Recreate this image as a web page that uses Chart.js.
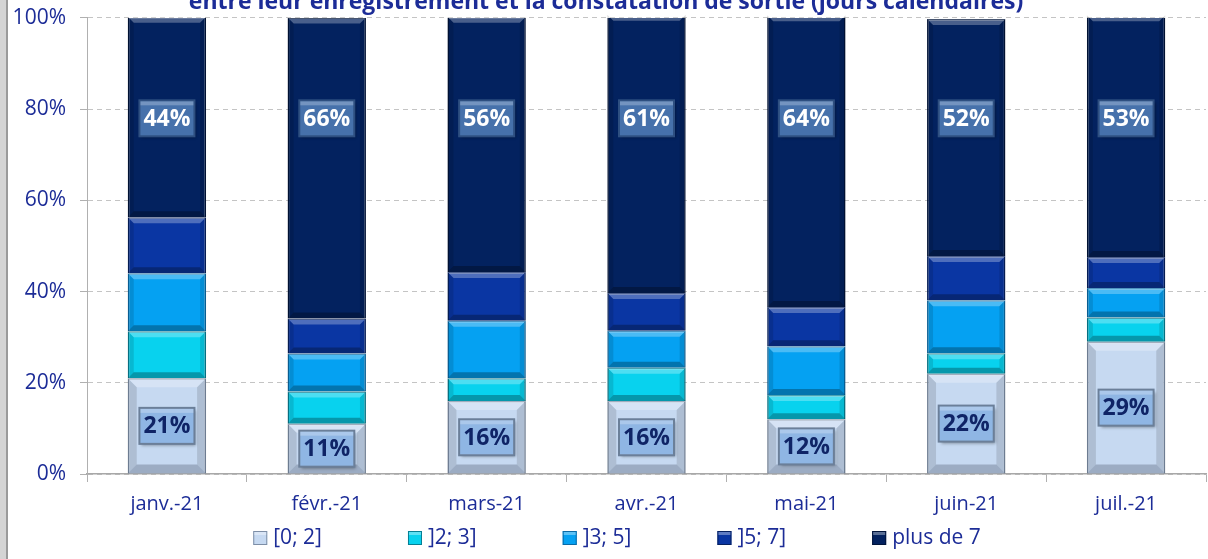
<!DOCTYPE html>
<html>
<head>
<meta charset="utf-8">
<script src="https://cdn.jsdelivr.net/npm/chart.js@4"></script>
<style>
  html, body { margin: 0; padding: 0; background: #fff; overflow: hidden; }
  #wrap { position: relative; width: 1208px; height: 559px; overflow: hidden; box-sizing: border-box; border-left: 6px solid #d4d4d4; }
  #wrap:before { content: ''; position: absolute; left: 0; top: 0; bottom: 0; width: 2px; background: #9a9a9a; z-index: 1; }
  #chart { display: block; margin-top: -11px; }
</style>
</head>
<body>
<div id="wrap"><canvas id="chart" width="1202" height="570"></canvas></div>
<script>
// Months and share of each delay band (% of files)
const months = ['janv.-21', 'févr.-21', 'mars-21', 'avr.-21', 'mai-21', 'juin-21', 'juil.-21'];
const band0to2 = [21, 11, 16, 16, 12, 22, 29];
const band2to3 = [10.3, 7.1, 5, 7.3, 5.3, 4.5, 5.3];
const band3to5 = [12.7, 8.3, 12.6, 8.1, 10.7, 11.6, 6.5];
const band5to7 = [12.3, 7.7, 10.7, 8.3, 8.6, 9.7, 6.8];
const bandOver7 = [44, 66, 56, 61, 64, 52, 53];
const yTicks = [0, 20, 40, 60, 80, 100];

const navy = '#1c2c97';
const font = "'Open Sans', sans-serif";

// bevel look on each bar segment
const bevelPlugin = {
    id: 'bevel',
    afterDatasetsDraw(chart) {
        const ctx = chart.ctx;
        chart.data.datasets.forEach((ds, i) => {
            const meta = chart.getDatasetMeta(i);
            const b = i === 0 ? 9 : 6;
            meta.data.forEach(bar => {
                const l = bar.x - bar.width / 2, r = bar.x + bar.width / 2;
                const t = Math.min(bar.y, bar.base), btm = Math.max(bar.y, bar.base);
                if (btm - t < 2 * b) return;
                ctx.save();
                ctx.fillStyle = 'rgba(255,255,255,0.28)';
                ctx.beginPath();
                ctx.moveTo(l, t); ctx.lineTo(r, t); ctx.lineTo(r - b, t + b); ctx.lineTo(l + b, t + b);
                ctx.fill();
                ctx.fillStyle = i === 0 ? 'rgba(60,70,90,0.3)' : 'rgba(0,0,0,0.28)';
                ctx.beginPath();
                ctx.moveTo(l, btm); ctx.lineTo(r, btm); ctx.lineTo(r - b, btm - b); ctx.lineTo(l + b, btm - b);
                ctx.fill();
                ctx.fillStyle = 'rgba(0,0,0,0.12)';
                ctx.beginPath();
                ctx.moveTo(l, t); ctx.lineTo(l + b, t + b); ctx.lineTo(l + b, btm - b); ctx.lineTo(l, btm);
                ctx.moveTo(r, t); ctx.lineTo(r - b, t + b); ctx.lineTo(r - b, btm - b); ctx.lineTo(r, btm);
                ctx.fill();
                ctx.restore();
            });
        });
    }
};

// boxed value labels on the first and last band
const labelPlugin = {
    id: 'boxLabels',
    afterDatasetsDraw(chart) {
        const ctx = chart.ctx;
        const y = chart.scales.y;
        [0, 4].forEach(i => {
            const meta = chart.getDatasetMeta(i);
            const vals = chart.data.datasets[i].data;
            meta.data.forEach((bar, j) => {
                const text = Math.round(vals[j]) + '%';
                const cy = i === 0 ? (bar.y + bar.base) / 2 : y.getPixelForValue(78);
                ctx.save();
                ctx.font = 'bold 23px ' + font;
                const w = ctx.measureText(text).width + 8, h = 36;
                const bx = bar.x - w / 2, by = cy - h / 2;
                ctx.shadowColor = 'rgba(0,0,0,0.35)';
                ctx.shadowOffsetX = 2; ctx.shadowOffsetY = 2; ctx.shadowBlur = 3;
                ctx.fillStyle = i === 0 ? '#8fb6e4' : '#4671ab';
                ctx.fillRect(bx, by, w, h);
                ctx.shadowColor = 'transparent';
                ctx.strokeStyle = i === 0 ? '#6b7f99' : '#2e4f80';
                ctx.lineWidth = 2;
                ctx.strokeRect(bx, by, w, h);
                ctx.fillStyle = 'rgba(255,255,255,0.25)';
                ctx.fillRect(bx + 1, by + 1, w - 2, 4);
                ctx.fillStyle = i === 0 ? '#0f2466' : '#ffffff';
                ctx.textAlign = 'center';
                ctx.textBaseline = 'middle';
                ctx.fillText(text, bar.x, cy + 1);
                ctx.restore();
            });
        });
    }
};

// legend with wide spacing, drawn under the axis labels
const legendPlugin = {
    id: 'wideLegend',
    afterDraw(chart) {
        const ctx = chart.ctx;
        const items = chart.data.datasets;
        const gap = 86, box = 14, sp = 6;
        ctx.save();
        ctx.font = '21px ' + font;
        const widths = items.map(d => box + sp + ctx.measureText(d.label).width);
        const total = widths.reduce((a, b) => a + b, 0) + gap * (items.length - 1);
        let x = chart.width / 2 + 10 - total / 2;
        const cy = chart.height - 21;
        items.forEach((d, i) => {
            ctx.fillStyle = d.backgroundColor;
            ctx.fillRect(x, cy - box / 2, box, box);
            ctx.strokeStyle = d.borderColor;
            ctx.lineWidth = 1;
            ctx.strokeRect(x + 0.5, cy - box / 2 + 0.5, box - 1, box - 1);
            ctx.fillStyle = 'rgba(255,255,255,0.35)';
            ctx.fillRect(x + 1, cy - box / 2 + 1, box - 2, 3);
            ctx.fillStyle = navy;
            ctx.textAlign = 'left';
            ctx.textBaseline = 'middle';
            ctx.fillText(d.label, x + box + sp, cy);
            x += widths[i] + gap;
        });
        ctx.restore();
    }
};

const ctx = document.getElementById('chart').getContext('2d');
new Chart(ctx, {
    type: 'bar',
    data: {
        labels: months,
        datasets: [
            { label: '[0; 2]', data: band0to2, backgroundColor: '#c6d9f1', borderColor: '#7d8ea6' },
            { label: ']2; 3]', data: band2to3, backgroundColor: '#08d2ee', borderColor: '#067f93' },
            { label: ']3; 5]', data: band3to5, backgroundColor: '#05a1f2', borderColor: '#0a6aa6' },
            { label: ']5; 7]', data: band5to7, backgroundColor: '#0a36a3', borderColor: '#06205f' },
            { label: 'plus de 7', data: bandOver7, backgroundColor: '#03225f', borderColor: '#01143a' }
        ]
    },
    options: {
        responsive: false,
        animation: false,
        datasets: { bar: { borderWidth: 1.5, barPercentage: 0.49, categoryPercentage: 1 } },
        layout: { padding: { left: 0, right: 2, top: 0, bottom: 33 } },
        scales: {
            x: {
                stacked: true,
                grid: { display: true, drawOnChartArea: false, offset: true, tickLength: 8, color: '#b0b0b0' },
                border: { color: '#a8a8a8', width: 1.5 },
                ticks: { color: navy, font: { family: font, size: 20 }, padding: 10 }
            },
            y: {
                stacked: true,
                min: 0, max: 100,
                afterBuildTicks: s => { s.ticks = yTicks.map(v => ({ value: v })); },
                afterFit: s => { s.width = 81; },
                grid: { color: '#c4c4c4', tickLength: 7, tickColor: '#b0b0b0', tickBorderDash: [0] },
                border: { color: '#b0b0b0', dash: [5, 4] },
                ticks: { color: navy, font: { family: font, size: 21 }, padding: 14, callback: v => v + '%' }
            }
        },
        plugins: {
            title: {
                display: true,
                text: 'entre leur enregistrement et la constatation de sortie (jours calendaires)',
                color: navy,
                font: { family: font, size: 23, weight: 'bold' },
                padding: { top: 0, bottom: 1.4 }
            },
            legend: { display: false },
            tooltip: { enabled: false }
        }
    },
    plugins: [bevelPlugin, labelPlugin, legendPlugin]
});
</script>
</body>
</html>
